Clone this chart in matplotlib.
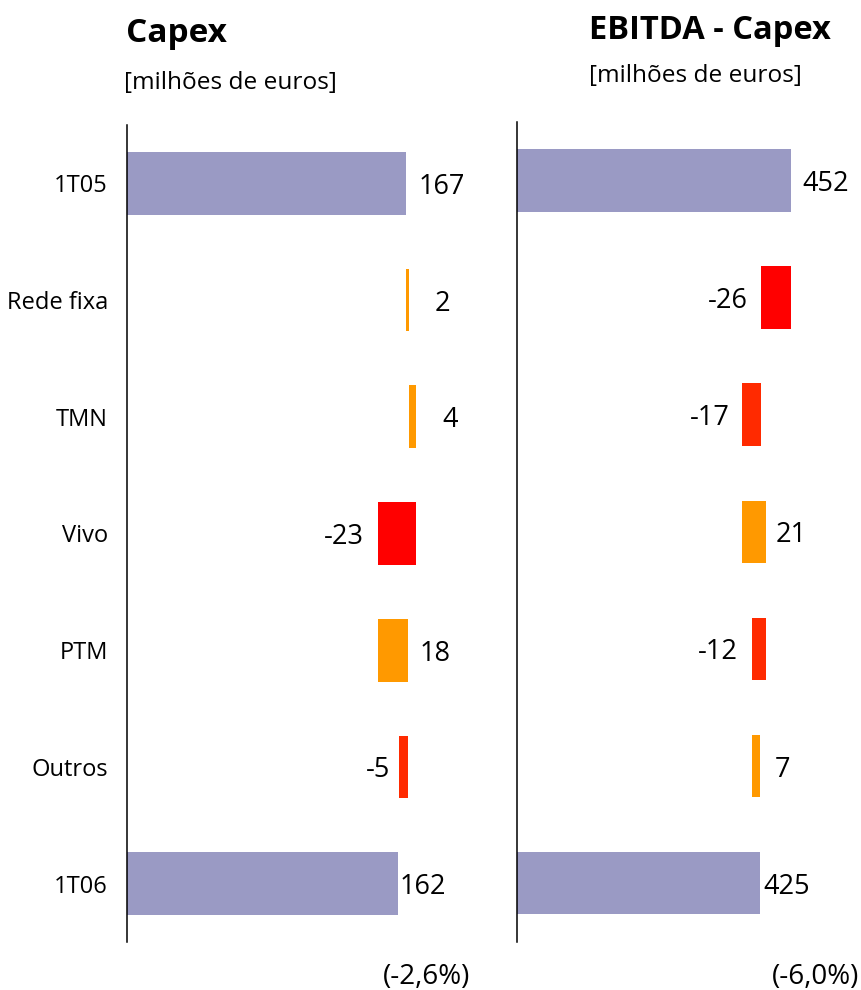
import matplotlib
matplotlib.use('Agg')
import matplotlib.pyplot as plt

# ---------------- data ----------------
categories = ['1T05', 'Rede fixa', 'TMN', 'Vivo', 'PTM', 'Outros', '1T06']
capex_values = [167, 2, 4, -23, 18, -5, 162]
ebitda_capex_values = [452, -26, -17, 21, -12, 7, 425]
capex_change = '(-2,6%)'
ebitda_capex_change = '(-6,0%)'
capex_title = 'Capex'
ebitda_capex_title = 'EBITDA - Capex'
unit_label = '[milhões de euros]'

# ---------------- style ----------------
BASE = '#9A9AC4'
POS = '#FF9900'
NEG = '#FF0000'
NEG2 = '#FF2A00'
capex_colors = [BASE, POS, POS, NEG, POS, NEG2, BASE]
ebitda_colors = [BASE, NEG, NEG2, POS, NEG2, POS, BASE]
# label gaps in pixels from bar edge
capex_gaps = [13, 25, 26, 14, 12, 9, 2]
ebitda_gaps = [12, 14, 12, 10, 14, 15, 3]

plt.rcParams['font.family'] = ['Open Sans', 'DejaVu Sans']

W, H = 862, 990
fig = plt.figure(figsize=(W / 100, H / 100), dpi=100)


def px_rect(x0, y0, x1, y1):
    return [x0 / W, 1 - y1 / H, (x1 - x0) / W, (y1 - y0) / H]


def waterfall(ax, values, colors, gaps, height):
    n = len(values)
    running = 0
    for i, v in enumerate(values):
        if i == 0 or i == n - 1:
            left, width = 0, v
            running = v
        else:
            start = running
            running = running + v
            left, width = min(start, running), abs(v)
        ax.barh(i, width, left=left, height=height, color=colors[i],
                linewidth=0)
        if i == 0 or i == n - 1 or v > 0:
            x, dx, ha = left + width, gaps[i], 'left'
        else:
            x, dx, ha = left, -gaps[i], 'right'
        ax.annotate(f'{v}', (x, i), xytext=(dx * 0.72, 0),
                    textcoords='offset points', ha=ha, va='center_baseline',
                    fontsize=19.5, color='black', annotation_clip=False)


def style_axis(ax):
    for s in ['top', 'right', 'bottom']:
        ax.spines[s].set_visible(False)
    ax.spines['left'].set_linewidth(1.1)
    ax.spines['left'].set_color('black')
    ax.set_xticks([])
    ax.set_ylim(len(categories) - 0.5, -0.5)


# left panel: Capex
ax1 = fig.add_axes(px_rect(127.5, 125, 500, 942))
waterfall(ax1, capex_values, capex_colors, capex_gaps, 0.537)
ax1.set_xlim(0, (500 - 127.5) / 1.668)
style_axis(ax1)
ax1.set_yticks(range(len(categories)))
ax1.set_yticklabels(categories, fontsize=17)
ax1.tick_params(axis='y', length=0, pad=14)

# right panel: EBITDA - Capex
ax2 = fig.add_axes(px_rect(517.3, 122, 862, 941.7))
waterfall(ax2, ebitda_capex_values, ebitda_colors, ebitda_gaps, 0.535)
ax2.set_xlim(210, 210 + (862 - 517.3) / 1.13)
style_axis(ax2)
ax2.set_yticks([])

# titles
fig.text(126 / W, 1 - 42 / H, capex_title, fontsize=24, fontweight='bold',
         va='baseline', ha='left')
fig.text(589 / W, 1 - 39 / H, ebitda_capex_title, fontsize=23.5,
         fontweight='bold', va='baseline', ha='left')
fig.text(124 / W, 1 - 89 / H, unit_label, fontsize=17.6, va='baseline', ha='left')
fig.text(589 / W, 1 - 82 / H, unit_label, fontsize=17.6, va='baseline', ha='left')

# changes
fig.text(470 / W, 1 - 977 / H, capex_change, fontsize=20, va='center', ha='right')
fig.text(859 / W, 1 - 977 / H, ebitda_capex_change, fontsize=20, va='center',
         ha='right')

fig.savefig('out.png', dpi=100)
